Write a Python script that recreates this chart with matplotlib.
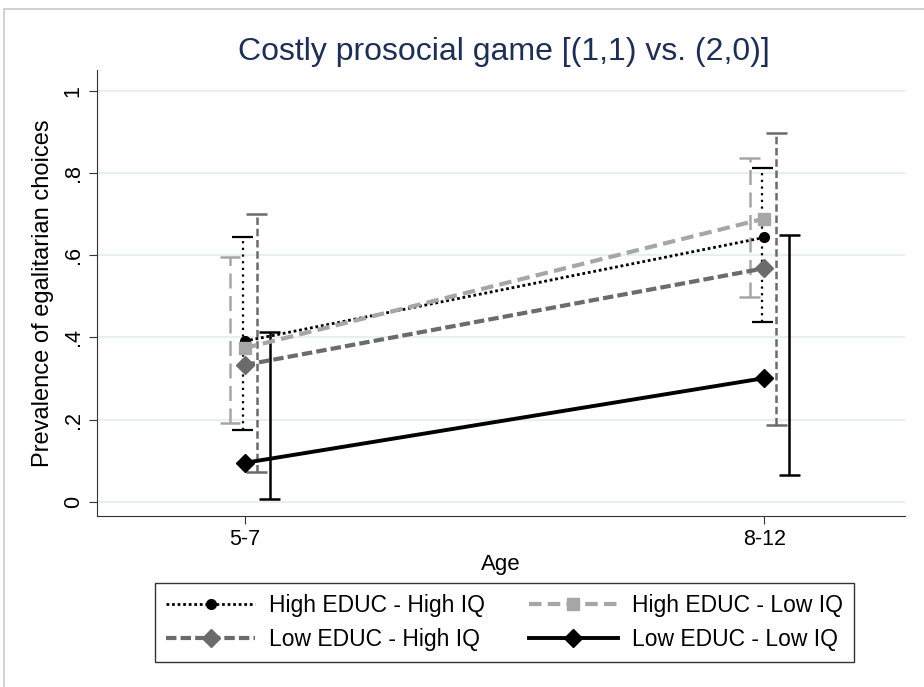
import numpy as np
import matplotlib
matplotlib.use("Agg")
import matplotlib.pyplot as plt
from matplotlib.patches import Rectangle

plt.rcParams['font.family'] = ['Liberation Sans', 'DejaVu Sans']

ages = ["5-7", "8-12"]
groups = ["High EDUC - High IQ", "High EDUC - Low IQ",
          "Low EDUC - High IQ", "Low EDUC - Low IQ"]
# mean prevalence per age group
means = {
    "High EDUC - High IQ": [0.391, 0.643],
    "High EDUC - Low IQ": [0.374, 0.689],
    "Low EDUC - High IQ": [0.333, 0.568],
    "Low EDUC - Low IQ": [0.095, 0.301],
}
ci_low = {
    "High EDUC - High IQ": [0.175, 0.437],
    "High EDUC - Low IQ": [0.192, 0.498],
    "Low EDUC - High IQ": [0.073, 0.187],
    "Low EDUC - Low IQ": [0.007, 0.066],
}
ci_high = {
    "High EDUC - High IQ": [0.643, 0.813],
    "High EDUC - Low IQ": [0.595, 0.837],
    "Low EDUC - High IQ": [0.700, 0.898],
    "Low EDUC - Low IQ": [0.413, 0.650],
}

styles = {
    "High EDUC - High IQ": dict(color="black", ls=(0, (1, 1)), lw=2.0, marker="o", ms=7, elw=1.6, els=(0, (1, 2)), off=-0.004),
    "High EDUC - Low IQ": dict(color="#a6a6a6", ls=(0, (3, 1.5)), lw=3.0, marker="s", ms=8, elw=1.8, els=(0, (6, 3)), off=-0.028),
    "Low EDUC - High IQ": dict(color="#6b6b6b", ls=(0, (2.5, 1)), lw=3.0, marker="D", ms=9, elw=1.8, els=(0, (3, 1.5)), off=0.023),
    "Low EDUC - Low IQ": dict(color="black", ls="-", lw=2.8, marker="D", ms=9, elw=1.8, els="-", off=0.048),
}

fig = plt.figure(figsize=(9.24, 6.87), dpi=100)
fig.patches.append(Rectangle((4 / 924, -0.1), 1.2, (687 - 9) / 687 + 0.1, transform=fig.transFigure,
                             fill=False, edgecolor="#c8c8c8", lw=1.2))
ax = fig.add_axes([0.105, 0.249, 0.874, 0.649])

x = np.array([1, 2])
handles = {}
for g in groups:
    st = styles[g]
    lo = np.array(ci_low[g])
    hi = np.array(ci_high[g])
    xe = x + st["off"]
    ax.vlines(xe, lo, hi, colors=st["color"], linestyles=[st["els"]], lw=st["elw"], zorder=2)
    ax.hlines(np.r_[lo, hi], np.r_[xe, xe] - 0.02, np.r_[xe, xe] + 0.02,
              colors=st["color"], lw=st["elw"], zorder=2)
    handles[g], = ax.plot(x, means[g], color=st["color"], ls=st["ls"], lw=st["lw"], marker=st["marker"],
                          ms=st["ms"], mfc=st["color"], mec=st["color"], label=g, zorder=3)

ax.set_xlim(0.716, 2.27)
ax.set_ylim(-0.034, 1.05)
ax.set_xticks(x)
ax.set_xticklabels(ages, fontsize=15.5)
ax.set_yticks([0, 0.2, 0.4, 0.6, 0.8, 1])
ax.set_yticklabels(["0", ".2", ".4", ".6", ".8", "1"], fontsize=15.5, rotation=90, va="center")
ax.yaxis.grid(True, color="#e6eff1", lw=1.5)
ax.set_axisbelow(True)
for s in ["top", "right"]:
    ax.spines[s].set_visible(False)
for s in ["left", "bottom"]:
    ax.spines[s].set_color("#333333")
ax.tick_params(direction="out", length=6, color="#333333")
ax.set_xlabel("Age", fontsize=16, labelpad=3)
ax.set_ylabel("Prevalence of egalitarian choices", fontsize=17, labelpad=6)
fig.text(0.545, 0.924, "Costly prosocial game [(1,1) vs. (2,0)]", ha="center", va="center",
         fontsize=23, color="#1f2e55")

# legend fills column-wise, so order handles to read row-wise as in the original
order = ["High EDUC - High IQ", "Low EDUC - High IQ", "High EDUC - Low IQ", "Low EDUC - Low IQ"]
leg = fig.legend([handles[g] for g in order], order, loc="center", bbox_to_anchor=(0.546, 0.094),
                 ncol=2, fontsize=16.5, frameon=True, fancybox=False, edgecolor="black",
                 handlelength=3.9, columnspacing=1.9, handletextpad=0.6, borderpad=0.5,
                 labelspacing=0.45, borderaxespad=0)
leg.get_frame().set_linewidth(1.0)

fig.savefig("out.png", dpi=100, facecolor="white")
